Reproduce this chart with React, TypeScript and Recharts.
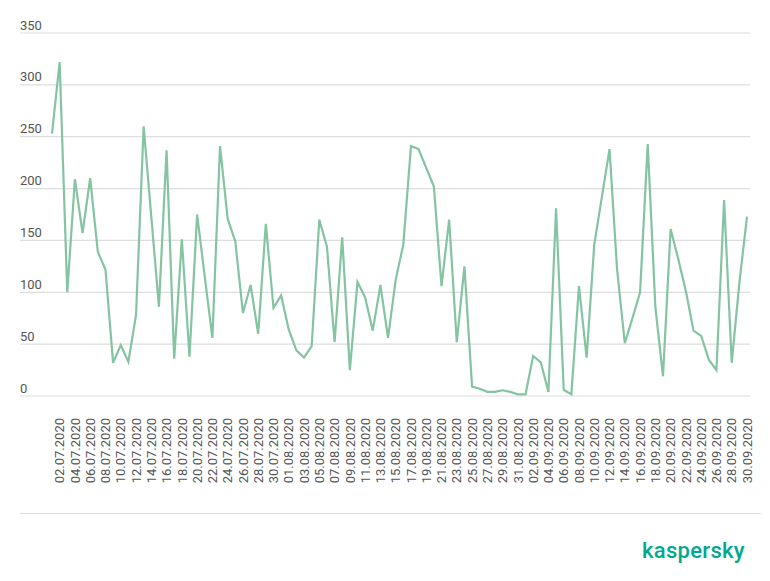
import { LineChart, Line, CartesianGrid, XAxis, YAxis } from 'recharts'

const dates = [
  '01.07.2020', '02.07.2020', '03.07.2020', '04.07.2020', '05.07.2020', '06.07.2020', '07.07.2020', '08.07.2020',
  '09.07.2020', '10.07.2020', '11.07.2020', '12.07.2020', '13.07.2020', '14.07.2020', '15.07.2020', '16.07.2020',
  '17.07.2020', '18.07.2020', '19.07.2020', '20.07.2020', '21.07.2020', '22.07.2020', '23.07.2020', '24.07.2020',
  '25.07.2020', '26.07.2020', '27.07.2020', '28.07.2020', '29.07.2020', '30.07.2020', '31.07.2020',
  '01.08.2020', '02.08.2020', '03.08.2020', '04.08.2020', '05.08.2020', '06.08.2020', '07.08.2020', '08.08.2020',
  '09.08.2020', '10.08.2020', '11.08.2020', '12.08.2020', '13.08.2020', '14.08.2020', '15.08.2020', '16.08.2020',
  '17.08.2020', '18.08.2020', '19.08.2020', '20.08.2020', '21.08.2020', '22.08.2020', '23.08.2020', '24.08.2020',
  '25.08.2020', '26.08.2020', '27.08.2020', '28.08.2020', '29.08.2020', '30.08.2020', '31.08.2020',
  '01.09.2020', '02.09.2020', '03.09.2020', '04.09.2020', '05.09.2020', '06.09.2020', '07.09.2020', '08.09.2020',
  '09.09.2020', '10.09.2020', '11.09.2020', '12.09.2020', '13.09.2020', '14.09.2020', '15.09.2020', '16.09.2020',
  '17.09.2020', '18.09.2020', '19.09.2020', '20.09.2020', '21.09.2020', '22.09.2020', '23.09.2020', '24.09.2020',
  '25.09.2020', '26.09.2020', '27.09.2020', '28.09.2020', '29.09.2020', '30.09.2020'
]

const counts = [
  253, 322, 100, 209, 157, 210, 139, 122, 32, 49, 33, 78, 260, 173, 86, 237,
  36, 151, 38, 175, 115, 56, 241, 171, 149, 80, 107, 60, 166, 85, 97,
  64, 44, 37, 48, 170, 144, 52, 153, 25, 110, 95, 63, 107, 56, 112, 146,
  241, 238, 220, 202, 106, 170, 52, 125, 9, 7, 4, 4, 5.5, 4, 1.6,
  1.6, 38.6, 32.5, 4, 181, 6, 1.6, 106, 37, 146, 192, 238, 121, 51, 75, 100,
  243, 86, 19, 161, 132, 101, 63, 58, 35, 25, 189, 32, 109, 173
]

const yTicks = [0, 50, 100, 150, 200, 250, 300, 350]

const data = dates.map((date, i) => ({ date, value: counts[i] }))

const FONT = 'Roboto, "Noto Sans", sans-serif'
const LEFT = 20

function YTick(props: any) {
  const { y, payload } = props
  return (
    <text x={LEFT} y={y - 3.5} fill="#555" fontSize={13} fontFamily={FONT} textAnchor="start">
      {payload.value}
    </text>
  )
}

function XTick(props: any) {
  const { x, y, payload, index } = props
  // only every second day gets a label, starting with 02.07
  if (index % 2 === 0) return null
  return (
    <g transform={`translate(${x},${y + 14})`}>
      <text
        transform="rotate(-90)"
        textAnchor="end"
        dy="0.36em"
        fill="#555"
        fontSize={13}
        fontFamily={FONT}
      >
        {payload.value}
      </text>
    </g>
  )
}

export default function App() {
  return (
    <div style={{ position: 'absolute', left: 0, top: 0, width: 770, height: 581, background: '#fff' }}>
      <LineChart
        width={770}
        height={581}
        data={data}
        margin={{ top: 33, right: 20, bottom: 85, left: LEFT - 1 }}
      >
        <CartesianGrid vertical={false} stroke="#dedede" strokeWidth={1.2} />
        <XAxis
          dataKey="date"
          interval={0}
          tick={<XTick />}
          tickLine={false}
          axisLine={false}
          height={100}
          padding={{ left: 32, right: 3 }}
        />
        <YAxis
          domain={[0, 350]}
          ticks={yTicks}
          width={1}
          tick={<YTick />}
          tickLine={false}
          axisLine={false}
        />
        <Line
          type="linear"
          dataKey="value"
          stroke="#84c4a2"
          strokeWidth={2.2}
          dot={false}
          isAnimationActive={false}
        />
      </LineChart>
      <div style={{ position: 'absolute', left: 20, top: 513, width: 741, borderTop: '1.5px solid #dedede' }} />
      <div
        style={{
          position: 'absolute',
          left: 642,
          top: 538,
          fontFamily: FONT,
          fontSize: 22,
          fontWeight: 500,
          color: '#00a88e',
          letterSpacing: 0.3
        }}
      >
        kaspersky
      </div>
    </div>
  )
}
